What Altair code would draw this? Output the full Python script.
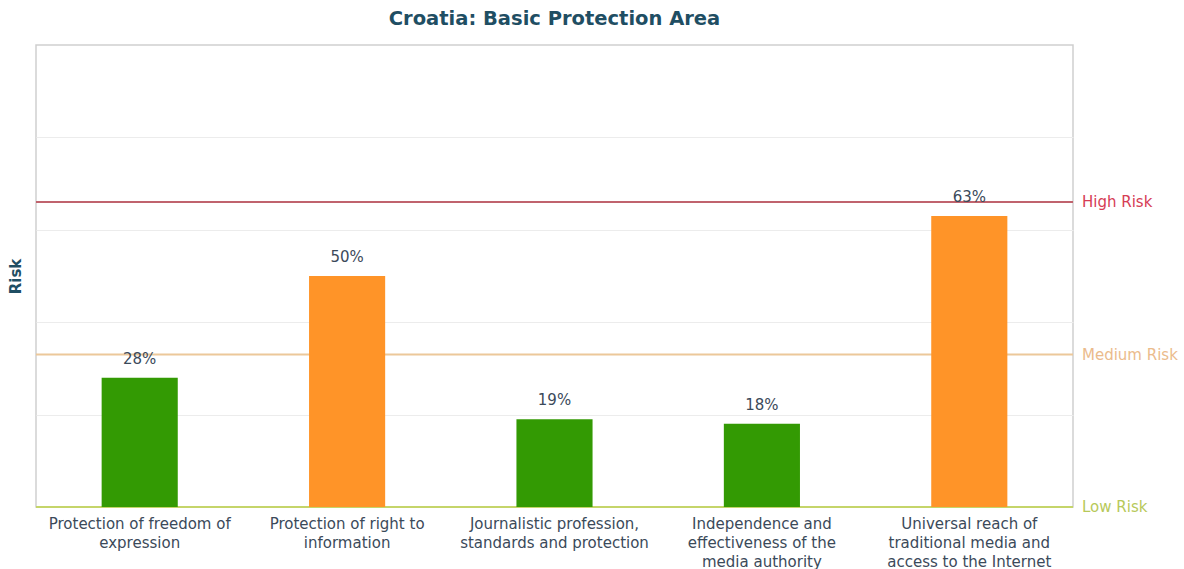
import altair as alt
import pandas as pd

categories = [
    "Protection of freedom of\nexpression",
    "Protection of right to\ninformation",
    "Journalistic profession,\nstandards and protection",
    "Independence and\neffectiveness of the\nmedia authority",
    "Universal reach of\ntraditional media and\naccess to the Internet",
]
values = [28, 50, 19, 18, 63]
levels = ["low", "medium", "low", "low", "high"]

threshold_names = ["Low Risk", "Medium Risk", "High Risk"]
threshold_values = [0, 33, 66]

bars_df = pd.DataFrame({"cat": categories, "value": values, "level": levels})
bars_df["label"] = [f"{v}%" for v in values]
thr_df = pd.DataFrame({"name": threshold_names, "value": threshold_values})

FONT = "DejaVu Sans"
W, H = 1037, 462

x_enc = alt.X(
    "cat:N",
    sort=categories,
    title=None,
    scale=alt.Scale(paddingInner=0.633, paddingOuter=0.3165),
    axis=alt.Axis(
        labelAngle=0,
        labelExpr="split(datum.label, '\\n')",
        labelFont=FONT,
        labelFontSize=15,
        labelColor="#3b4a5a",
        labelLineHeight=19,
        labelPadding=9,
        ticks=False,
        domain=False,
        labelLimit=250,
    ),
)
y_enc = alt.Y(
    "value:Q",
    scale=alt.Scale(domain=[0, 100], nice=False),
    title="Risk",
    axis=alt.Axis(
        values=[20, 40, 60, 80],
        labels=False,
        ticks=False,
        domain=False,
        grid=True,
        gridColor="#ececec",
        titleFont=FONT,
        titleFontSize=15,
        titleFontWeight="bold",
        titleColor="#1f4e63",
        titlePadding=13,
    ),
)

bars = alt.Chart(bars_df).mark_bar().encode(
    x=x_enc,
    y=y_enc,
    color=alt.Color(
        "level:N",
        scale=alt.Scale(domain=["low", "medium", "high"], range=["#339a03", "#ff9428", "#ff9428"]),
        legend=None,
    ),
)

texts = alt.Chart(bars_df).mark_text(
    font=FONT, fontSize=15, color="#3b4a5a", baseline="middle", dy=-19
).encode(x=alt.X("cat:N", sort=categories), y="value:Q", text="label:N")

thr_color = alt.Scale(domain=threshold_names, range=["#c5d56a", "#ecc89a", "#c0636d"])
label_color = alt.Scale(domain=threshold_names, range=["#b7c95a", "#ebbb8c", "#d63c55"])

rules = alt.Chart(thr_df).mark_rule(strokeWidth=2).encode(
    y="value:Q",
    color=alt.Color("name:N", scale=thr_color, legend=None),
)

rule_labels = alt.Chart(thr_df).mark_text(
    font=FONT, fontSize=15, align="left", baseline="middle", dx=9
).encode(
    x=alt.value(W),
    y="value:Q",
    text="name:N",
    color=alt.Color("name:N", scale=label_color, legend=None),
)

chart = (
    alt.layer(rules, bars, texts, rule_labels)
    .resolve_scale(color="independent")
    .properties(
        width=W,
        height=H,
        title=alt.TitleParams(
            "Croatia: Basic Protection Area",
            font=FONT,
            fontSize=19.5,
            fontWeight="bold",
            color="#1f4e63",
            anchor="middle",
            offset=16,
        ),
        padding={"left": 36, "top": 45, "right": 111, "bottom": 62},
        autosize=alt.AutoSizeParams(type="none"),
        background="white",
    )
    .configure_view(stroke="#cfcfcf", strokeWidth=1.5)
)

chart.save("out.html", embed_options={"renderer": "svg", "actions": False})
